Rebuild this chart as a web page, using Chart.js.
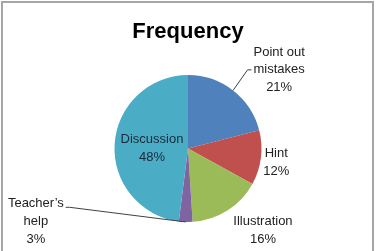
<!DOCTYPE html>
<html>
<head>
<meta charset="utf-8">
<script src="https://cdn.jsdelivr.net/npm/chart.js@4/dist/chart.umd.min.js"></script>
<style>
html,body{margin:0;padding:0;background:#fff;}
#wrap{position:relative;width:376px;height:251px;}
</style>
</head>
<body>
<div id="wrap"><canvas id="c" width="376" height="251"></canvas></div>
<script>
const categories = ["Point out mistakes", "Hint", "Illustration", "Teacher\u2019s help", "Discussion"];
const labelLines = [["Point out", "mistakes"], ["Hint"], ["Illustration"], ["Teacher\u2019s", "help"], ["Discussion"]];
const frequency = [21, 12, 16, 3, 48];
const sliceColors = ["#4F81BD", "#C0504D", "#9BBB59", "#8064A2", "#4BACC6"];

// label layout: centre of label block relative to pie centre, in radius units
const labelLayout = [
  {dx: 1.24, dy: -1.07, leader: true, bendDx: 0.81, bendDy: -1.07, side: 1},
  {dx: 1.20, dy: 0.19},
  {dx: 1.02, dy: 1.11},
  {dx: -2.07, dy: 0.99, leader: true, bendDx: -1.61, bendDy: 0.80, side: -1},
  {dx: -0.49, dy: 0.0}
];

const labelPlugin = {
  id: 'pieLabels',
  afterDatasetsDraw(chart) {
    const ctx = chart.ctx;
    const meta = chart.getDatasetMeta(0);
    const total = frequency.reduce((a, b) => a + b, 0);
    ctx.save();
    ctx.font = '13px "Liberation Sans", Arial, sans-serif';
    ctx.textAlign = 'center';
    ctx.textBaseline = 'middle';
    const lh = 17.8;
    meta.data.forEach((arc, i) => {
      const p = arc.getProps(['x', 'y', 'startAngle', 'endAngle', 'outerRadius'], true);
      const r = p.outerRadius;
      const L = labelLayout[i];
      const lines = labelLines[i].concat([Math.round(frequency[i] / total * 100) + '%']);
      const cx = p.x + L.dx * r;
      const cy = p.y + L.dy * r;
      const top = cy - (lines.length - 1) * lh / 2;
      if (L.leader) {
        const mid = (p.startAngle + p.endAngle) / 2;
        const ex = p.x + Math.cos(mid) * r;
        const ey = p.y + Math.sin(mid) * r;
        const bx = p.x + L.bendDx * r;
        const by = p.y + L.bendDy * r;
        ctx.beginPath();
        ctx.strokeStyle = '#404040';
        ctx.lineWidth = 1;
        ctx.moveTo(ex, ey);
        ctx.lineTo(bx, by);
        ctx.lineTo(bx + L.side * 4, by);
        ctx.stroke();
      }
      ctx.fillStyle = i === 4 ? '#1a2a3a' : '#222222';
      lines.forEach((t, k) => ctx.fillText(t, cx, top + k * lh));
    });
    ctx.restore();
  },
  beforeDraw(chart) {
    const ctx = chart.ctx;
    ctx.save();
    ctx.strokeStyle = '#a6a6a6';
    ctx.lineWidth = 2;
    ctx.strokeRect(2, 2, 371, 262);
    ctx.restore();
  }
};

new Chart(document.getElementById('c'), {
  type: 'pie',
  data: {
    labels: categories,
    datasets: [{
      data: frequency,
      backgroundColor: sliceColors,
      borderWidth: 0
    }]
  },
  options: {
    responsive: false,
    animation: false,
    layout: {padding: {top: 0, bottom: 29, left: 0, right: 0}},
    plugins: {
      legend: {display: false},
      tooltip: {enabled: false},
      title: {
        display: true,
        text: 'Frequency',
        color: '#000',
        font: {family: '"Liberation Sans", Arial, sans-serif', size: 22, weight: 'bold', lineHeight: 1.2},
        padding: {top: 19, bottom: 29.6}
      }
    }
  },
  plugins: [labelPlugin]
});
</script>
</body>
</html>
